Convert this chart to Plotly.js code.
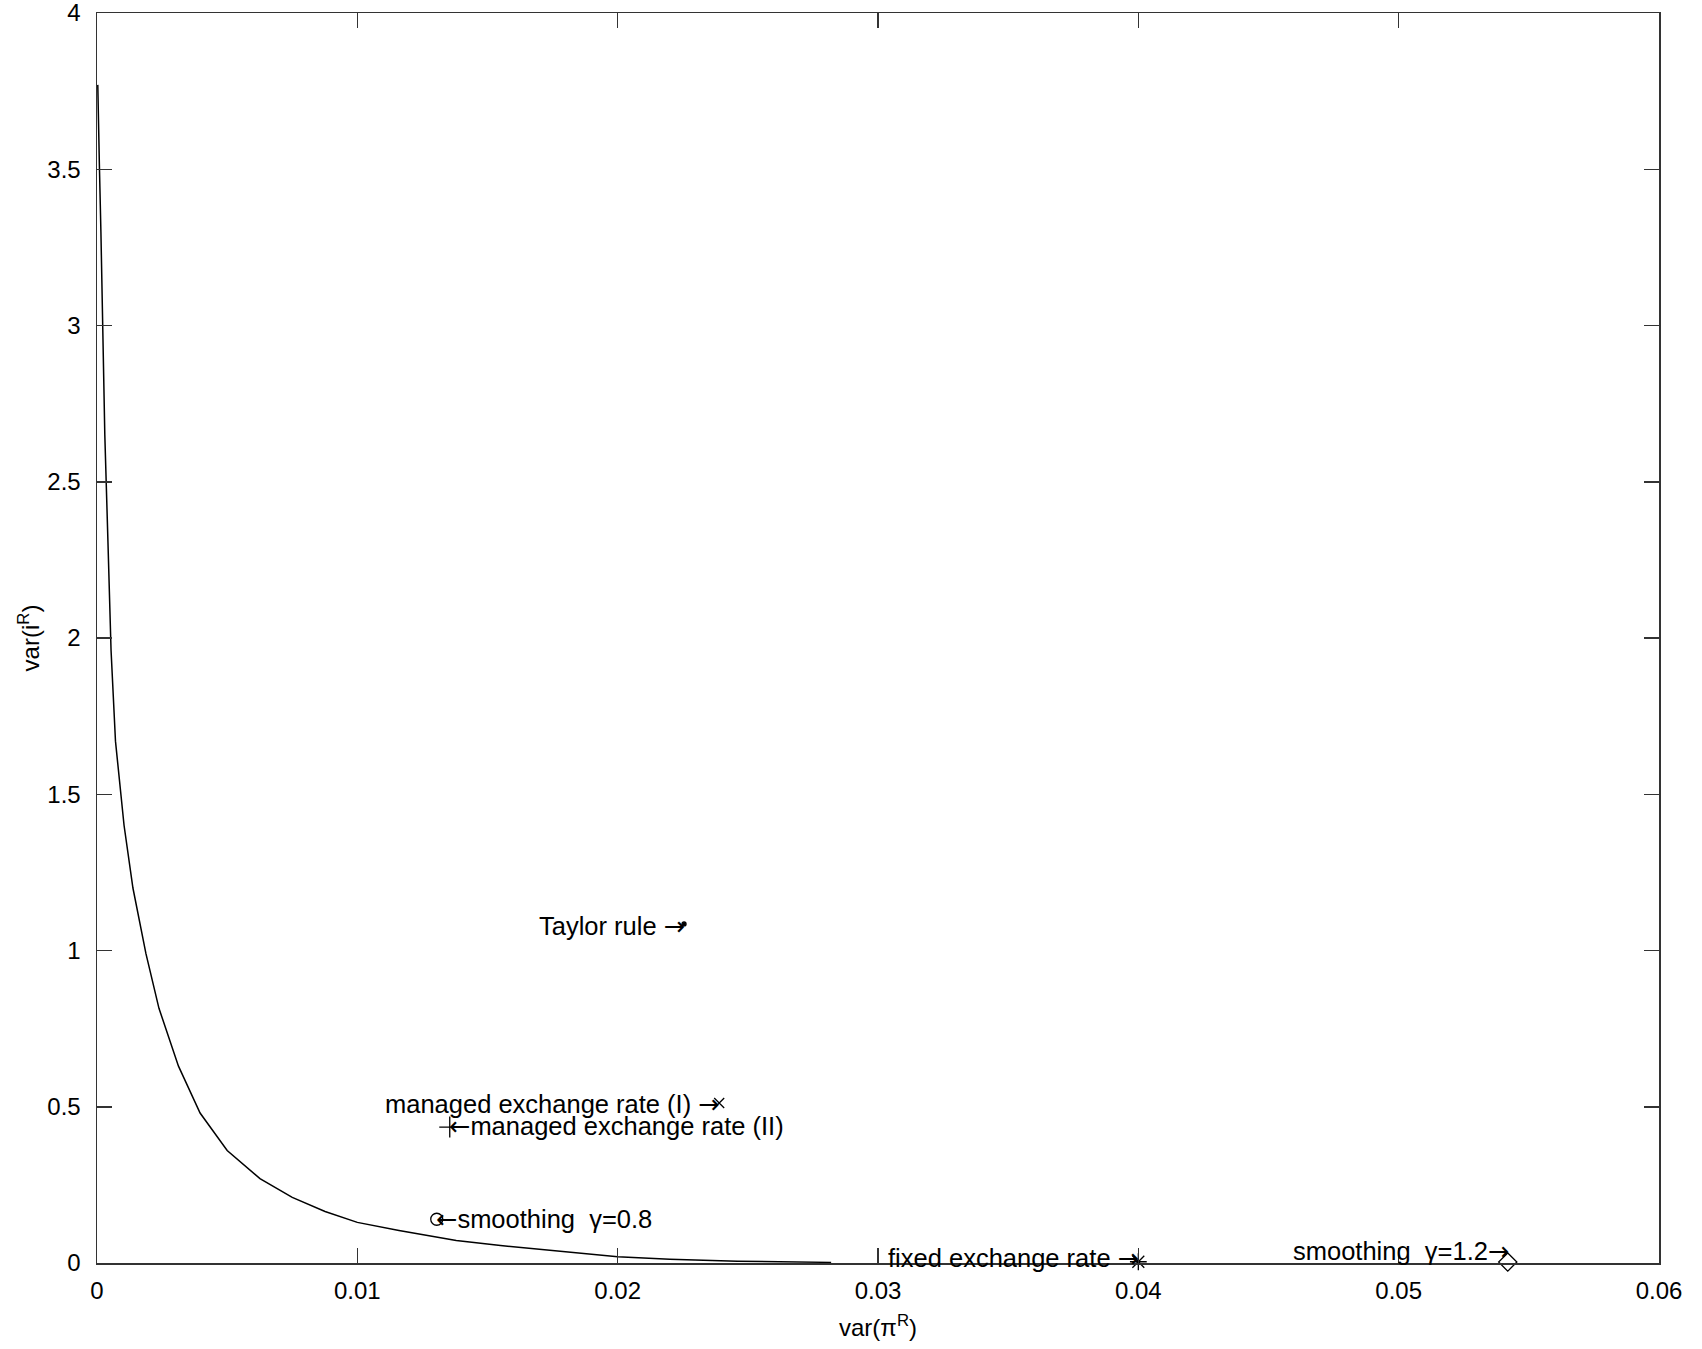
<!DOCTYPE html>
<html>
<head>
<meta charset="utf-8">
<script src="https://cdn.plot.ly/plotly-3.0.1.min.js"></script>
<style>html,body{margin:0;padding:0;background:#fff;}#chart{width:1702px;height:1349px;}</style>
</head>
<body>
<div id="chart"></div>
<script>
// Frontier curve: var(pi^R) vs var(i^R)
const curveX = [0.00003, 0.00005, 0.00009, 0.00015, 0.00021, 0.0003, 0.00042, 0.00054, 0.00071, 0.00104, 0.00138, 0.00188, 0.00238, 0.00313, 0.00396, 0.005, 0.00626, 0.0075, 0.00876, 0.01, 0.0116, 0.0138, 0.0155, 0.018, 0.02, 0.022, 0.0246, 0.0282];
const curveY = [3.77, 3.66, 3.52, 3.3, 3.0, 2.65, 2.31, 1.96, 1.67, 1.40, 1.20, 0.99, 0.815, 0.63, 0.48, 0.36, 0.27, 0.21, 0.165, 0.13, 0.104, 0.072, 0.056, 0.035, 0.02, 0.012, 0.006, 0.002];

// Policy rule points
const ruleNames = ["Taylor rule", "managed exchange rate (I)", "managed exchange rate (II)", "smoothing γ=0.8", "fixed exchange rate", "smoothing γ=1.2"];
const ruleX = [0.02255, 0.02390, 0.01355, 0.01305, 0.04000, 0.05419];
const ruleY = [1.085, 0.512, 0.435, 0.140, 0.004, 0.003];
const ruleSymbols = ["circle", "x-thin-open", "cross-thin-open", "circle-open", "asterisk-open", "diamond-open"];
const ruleSizes = [4, 10, 15, 12, 14, 14];

// Text labels (arrows added separately) and their anchor points
const labelTexts = ["Taylor rule ", "managed exchange rate (I) ", "managed exchange rate (II)", "smoothing\u00a0\u00a0γ=0.8", "fixed exchange rate ", "smoothing\u00a0\u00a0γ=1.2"];
const labelArrows = ["right", "right", "left", "left", "right", "right"];
const labelX = [0.02255, 0.02390, 0.01355, 0.01305, 0.04000, 0.05419];
const labelY = [1.080, 0.510, 0.437, 0.142, 0.016, 0.040];

// Axis ticks
const xTickVals = [0, 0.01, 0.02, 0.03, 0.04, 0.05, 0.06];
const xTickText = ["0", "0.01", "0.02", "0.03", "0.04", "0.05", "0.06"];
const yTickVals = [0, 0.5, 1, 1.5, 2, 2.5, 3, 3.5, 4];
const yTickText = ["0", "0.5", "1", "1.5", "2", "2.5", "3", "3.5", "4"];

const FONT = "Liberation Sans, Arial, Helvetica, sans-serif";
const ARROWFONT = "DejaVu Sans";

const traces = [{
  x: curveX, y: curveY, type: "scatter", mode: "lines",
  line: {color: "#000", width: 1.5}, showlegend: false, hoverinfo: "skip"
}];
ruleNames.forEach((n, i) => {
  traces.push({
    x: [ruleX[i]], y: [ruleY[i]], type: "scatter", mode: "markers", name: n,
    marker: {symbol: ruleSymbols[i], size: ruleSizes[i], color: "#000",
             line: {color: "#000", width: 1.3}},
    showlegend: false, cliponaxis: false
  });
});

const annotations = labelTexts.map((t, i) => {
  const right = labelArrows[i] === "right";
  const arrow = '<span style="font-family:' + ARROWFONT + '">' + (right ? "→" : "←") + '</span>';
  return {
    x: labelX[i], y: labelY[i], xref: "x", yref: "y",
    text: right ? t + arrow : arrow + t, showarrow: false,
    xanchor: right ? "right" : "left", yanchor: "middle",
    xshift: right ? 3 : -3,
    font: {family: FONT, size: 25.5, color: "#000"}
  };
});

const axisCommon = {
  showgrid: false, zeroline: false, showline: true, mirror: "ticks",
  linecolor: "#333", linewidth: 1.5, ticks: "inside", ticklen: 15,
  tickcolor: "#333", tickwidth: 1.5, ticklabeloverflow: "allow",
  tickfont: {family: FONT, size: 24, color: "#000"}
};

const layout = {
  width: 1702, height: 1349,
  margin: {l: 97, r: 43, t: 13, b: 86, pad: 0},
  paper_bgcolor: "#fff", plot_bgcolor: "#fff",
  xaxis: Object.assign({}, axisCommon, {
    range: [0, 0.06], tickmode: "array", tickvals: xTickVals, ticktext: xTickText,
    ticklabelstandoff: 6,
    title: {text: "var(π<sup>R</sup>)", font: {family: FONT, size: 24, color: "#000"}, standoff: 16}
  }),
  yaxis: Object.assign({}, axisCommon, {
    range: [0, 4], tickmode: "array", tickvals: yTickVals, ticktext: yTickText,
    ticklabelstandoff: 10,
    title: {text: "var(i<sup>R</sup>)", font: {family: FONT, size: 24, color: "#000"}, standoff: 1}
  }),
  annotations: annotations,
  showlegend: false
};

Plotly.newPlot("chart", traces, layout, {displayModeBar: false, staticPlot: true});
</script>
</body>
</html>
